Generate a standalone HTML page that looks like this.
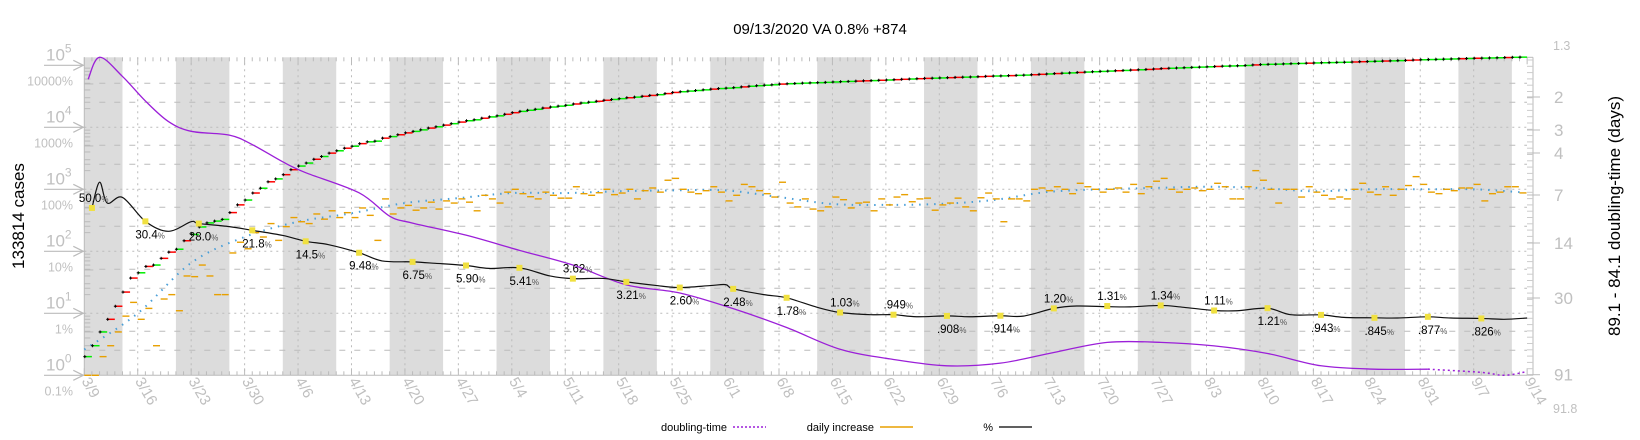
<!DOCTYPE html>
<html><head><meta charset="utf-8">
<style>
html,body{margin:0;padding:0;background:#fff;}
svg{display:block;font-family:"Liberation Sans","DejaVu Sans",sans-serif;}
</style></head>
<body>
<svg id="chart" width="1640" height="440" viewBox="0 0 1640 440" xmlns="http://www.w3.org/2000/svg">
<text x="820" y="34" text-anchor="middle" font-size="15" fill="#000">09/13/2020 VA 0.8% +874</text>
<text transform="translate(24,216) rotate(-90)" text-anchor="middle" font-size="17" fill="#000">133814 cases</text>
<text transform="translate(1620,216) rotate(-90)" text-anchor="middle" font-size="17" fill="#000">89.1 - 84.1 doubling-time (days)</text>
<g id="bands"></g><g id="grid"></g><g id="axes"></g><g id="series"></g><g id="labels"></g>
<g>
<text x="727" y="431" text-anchor="end" font-size="11">doubling-time</text>
<line x1="733" y1="427" x2="766" y2="427" stroke="#9b1fd8" stroke-width="1.5" stroke-dasharray="2,2"/>
<text x="874" y="431" text-anchor="end" font-size="11">daily increase</text>
<line x1="880" y1="427" x2="913" y2="427" stroke="#e8a000" stroke-width="1.5"/>
<text x="993" y="431" text-anchor="end" font-size="11">%</text>
<line x1="999" y1="427" x2="1032" y2="427" stroke="#000" stroke-width="1.2"/>
</g>
</svg>
<script>
// ---- data ----
const dateLabels = ["3/9","3/16","3/23","3/30","4/6","4/13","4/20","4/27","5/4","5/11","5/18","5/25","6/1","6/8","6/15","6/22","6/29","7/6","7/13","7/20","7/27","8/3","8/10","8/17","8/24","8/31","9/7","9/14"];
const dailyIncrease = [
1,1,2,3,5,9,15,
8,12,3,17,20,11,40,
39,60,40,20,20,94,140,
110,200,170,280,150,250,350,
300,280,400,330,450,350,420,
350,500,380,150,700,400,500,
550,460,500,620,480,650,600,
700,620,450,800,700,600,900,
1000,850,760,700,900,800,720,
720,1100,850,800,880,1000,820,
870,1000,700,950,1050,900,1400,
1500,1000,900,850,950,1100,900,
650,800,1200,1100,950,850,750,
1300,600,520,700,480,450,520,
750,680,500,600,620,450,700,
560,750,820,630,700,720,460,
560,600,720,520,450,730,870,
700,300,700,700,650,1000,1050,
950,1100,1000,850,1250,1100,1000,
900,1000,1050,900,1200,850,1100,
1350,1500,1000,900,1000,1050,950,
1000,1250,1100,700,700,1100,2000,
1400,1000,600,1000,1000,750,1100,
900,800,700,750,700,1000,1250,
900,820,1100,800,1000,1150,1600,
1200,900,850,1000,950,1050,1050,
1200,650,850,900,1100,1100,874];
const avgDays = [0,7,14,21,28,35,42,49,56,63,70,77,84,91,98,105,112,119,126,133,140,147,154,161,168,175,182,188];
const avgValues = [2.6,10,65,170,300,410,600,720,870,870,930,960,960,750,580,560,580,670,900,1000,1050,1100,1050,930,1000,1000,1000,900];
const pctDays = [1,2,3,5,8,11,14,15,19,22,26,29,32,36,39,43,46,50,53,57,61,64,68,71,75,78,82,84,85,89,92,96,99,103,106,109,113,116,120,123,127,130,134,137,141,144,148,151,155,158,162,165,169,172,176,179,183,186,189];
const pctValues = [50,130,60,74,30.4,21,30,28,25,21.8,18,14.5,12.8,9.48,7.0,6.75,6.4,5.9,5.3,5.41,4.0,3.62,3.65,3.21,2.8,2.6,2.8,2.9,2.48,2.0,1.78,1.25,1.03,0.95,0.949,0.88,0.908,0.88,0.914,0.9,1.20,1.31,1.28,1.27,1.34,1.25,1.11,1.1,1.21,0.95,0.943,0.86,0.845,0.84,0.877,0.84,0.826,0.8,0.84];
const markerLabels = ["50.0","30.4","28.0","21.8","14.5","9.48","6.75","5.90","5.41","3.62","3.21","2.60","2.48","1.78","1.03",".949",".908",".914","1.20","1.31","1.34","1.11","1.21",".943",".845",".877",".826"];
const markerValues = [50,30.4,28.0,21.8,14.5,9.48,6.75,5.90,5.41,3.62,3.21,2.60,2.48,1.78,1.03,0.949,0.908,0.914,1.20,1.31,1.34,1.11,1.21,0.943,0.845,0.877,0.826];
const markerAbove = [1,0,0,0,0,0,0,0,0,1,0,0,0,0,1,1,0,0,1,1,1,1,0,0,0,0,0];
const dtDays = [0.5,2,5,8,11,14,19,22,26,29,36,40,43,50,57,64,71,78,85,92,99,106,113,120,127,134,141,148,155,162,169,176,183,186,189];
const dtValues = [1.65,1.3,1.6,2.1,2.7,3.05,3.2,3.6,4.5,5.2,6.8,9.5,10.5,12.5,15.5,19,25,28,35,46,63,73,80,77,66,57,57,60,67,80,84,84,88,91.8,87];
const dtDottedFrom = 180;
const caseTicks = [0,1,2,3,4,5];
const pctTickLabels = ["10000%","1000%","100%","10%","1%","0.1%"];
const dtTickValues = [2,3,4,7,14,30,91];

// ---- scales ----
const NS="http://www.w3.org/2000/svg";
const X0=84.3, DAY=7.634, YB=375.3, DEC=62, XR=1527;
const xDay=d=>X0+d*DAY;
const yCase=v=>YB-DEC*Math.log10(v);
const yPct=p=>YB-DEC*Math.log10(p*10);
const dtMap=[[1.3,57.3],[2,97],[3,130],[4,153],[7,195],[14,243],[30,298],[91.8,375.3]];
function yDt(d){
  d=Math.max(1.3,Math.min(91.8,d));
  for(let i=0;i<dtMap.length-1;i++){const a=dtMap[i],b=dtMap[i+1];
    if(d<=b[0]){const f=(Math.log(d)-Math.log(a[0]))/(Math.log(b[0])-Math.log(a[0]));return a[1]+f*(b[1]-a[1]);}}
  return 375.3;
}
function smooth(pts){
  if(pts.length<2)return '';
  let s=`M${pts[0][0]},${pts[0][1]}`;
  for(let i=0;i<pts.length-1;i++){
    const p0=pts[Math.max(0,i-1)],p1=pts[i],p2=pts[i+1],p3=pts[Math.min(pts.length-1,i+2)];
    const c1=[p1[0]+(p2[0]-p0[0])/6,p1[1]+(p2[1]-p0[1])/6];
    const c2=[p2[0]-(p3[0]-p1[0])/6,p2[1]-(p3[1]-p1[1])/6];
    s+=` C${c1[0]},${c1[1]} ${c2[0]},${c2[1]} ${p2[0]},${p2[1]}`;
  }
  return s;
}
function mk(tag,attrs,parent){const e=document.createElementNS(NS,tag);for(const k in attrs)e.setAttribute(k,attrs[k]);parent.appendChild(e);return e;}
const gB=document.getElementById('bands'),gG=document.getElementById('grid'),gA=document.getElementById('axes'),gS=document.getElementById('series'),gL=document.getElementById('labels');

for(let s=-2;s<189;s+=14){
  const a=Math.max(0,s),b=Math.min(189,s+7);
  const r=mk('rect',{x:xDay(a),y:57.3,width:xDay(b)-xDay(a),height:YB-57.3,fill:'#dcdcdc'},gB);
  
  
}
for(let k=0;k<=5;k++){
  const yd=yCase(Math.pow(10,k));
  if(k>0&&k<5){const l=mk('line',{x1:X0,x2:XR,y1:yd,y2:yd,stroke:'#bbb','stroke-dasharray':'2,4'},gG);
    }
  [18,37].forEach(o=>{const y=yd+o;if(y<YB-2&&y>57){const l=mk('line',{x1:X0,x2:XR,y1:y,y2:y,stroke:'#bbb','stroke-dasharray':'6,9'},gG);
    }});
}
dateLabels.forEach((lab,i)=>{
  const x=xDay(i*7);
  if(i>0&&i<27){const l=mk('line',{x1:x,x2:x,y1:57.3,y2:YB,stroke:'#bbb','stroke-dasharray':'2,4'},gG);
    }
  const t=mk('text',{x:0,y:0,transform:`translate(${x-3},${381}) rotate(60)`,'font-size':15,fill:'#bfbfbf'},gL);
  t.textContent=lab;
  
  
});
for(let d=0;d<=189;d++){const x=xDay(d);const h=(d%7===0)?7:4;
  mk('line',{x1:x,x2:x,y1:YB,y2:YB-h,stroke:'#bbb'},gA);
  mk('line',{x1:x,x2:x,y1:57.3,y2:57.3+h,stroke:'#bbb'},gA);}
mk('line',{x1:X0,x2:X0,y1:57.3,y2:YB,stroke:'#bbb'},gA);
mk('line',{x1:X0,x2:XR+6,y1:YB,y2:YB,stroke:'#bbb'},gA);
caseTicks.forEach((k,i)=>{
  const y=yCase(Math.pow(10,k));
  mk('line',{x1:44,x2:X0,y1:y,y2:y,stroke:'#bbb','stroke-width':1.2},gA);
  mk('polyline',{points:`${X0-11},${y-5} ${X0-1},${y} ${X0-11},${y+5}`,fill:'none',stroke:'#bbb','stroke-width':1.2},gA);
  const t=mk('text',{x:46,y:y-5,'font-size':17,fill:'#c0c0c0'},gL);
  t.innerHTML='10<tspan dy="-8" font-size="12">'+k+'</tspan>';
  
  
  for(let m=2;m<=9;m++){const ym=y-DEC*Math.log10(m);if(k<5&&ym>57)mk('line',{x1:X0,x2:X0+(m===5?9:6),y1:ym,y2:ym,stroke:'#bbb'},gA);}
});
pctTickLabels.forEach((lab,i)=>{
  const t=mk('text',{x:73,y:yCase(Math.pow(10,5-i))+20,'text-anchor':'end','font-size':12.5,fill:'#c0c0c0'},gL);
  t.textContent=lab;
  
  
});
mk('line',{x1:1533,x2:1533,y1:57.3,y2:YB,stroke:'#bbb'},gA);
mk('line',{x1:XR,x2:1533,y1:57.3,y2:57.3,stroke:'#bbb'},gA);
for(let y=60;y<YB;y+=6.3){mk('line',{x1:XR,x2:1533,y1:y,y2:y,stroke:'#ccc'},gA);}
dtTickValues.forEach(v=>{
  const y=yDt(v);
  mk('line',{x1:XR,x2:1540,y1:y,y2:y,stroke:'#bbb'},gA);
  const t=mk('text',{x:1554,y:y+6,'font-size':17,fill:'#c0c0c0'},gL);
  t.textContent=String(v);
  
  
});
[["1.3",50],["91.8",413]].forEach(([s,y])=>{const t=mk('text',{x:1553,y:y,'font-size':12.5,fill:'#c0c0c0'},gL);t.textContent=s;
  });

// blue avg dotted
const avgLine=mk('path',{d:smooth(avgDays.map((d,i)=>[xDay(d),yCase(avgValues[i])])),fill:'none',stroke:'#4a9fd8','stroke-width':2,'stroke-dasharray':'1.5,6'},gS);


dailyIncrease.forEach((v,d)=>{
  const y=yCase(Math.max(v,1));
  const l=mk('line',{x1:xDay(d),x2:xDay(d)+7,y1:y,y2:y,stroke:'#e8a000','stroke-width':1.4},gS);
  
  
});
let cum=1;
function avgAt(d){for(let i=0;i<avgDays.length-1;i++){if(d<=avgDays[i+1]){return avgValues[i];}}return avgValues[avgValues.length-1];}
dailyIncrease.forEach((v,d)=>{
  cum+=v;
  const y=yCase(cum);
  const col=(d>0&&v>dailyIncrease[d-1]*1.02&&v>avgAt(d))?'#f00':'#0e0';
  const l=mk('line',{x1:xDay(d),x2:xDay(d)+7.6,y1:y,y2:y,stroke:col,'stroke-width':1.5},gS);
  
  
  mk('line',{x1:xDay(d)-1,x2:xDay(d)+2,y1:y,y2:y,stroke:'#000','stroke-width':1},gS);
  mk('line',{x1:xDay(d)+0.5,x2:xDay(d)+0.5,y1:y-1.5,y2:y+1.5,stroke:'#000','stroke-width':1},gS);
});
let solid=[],dotted=[];
dtDays.forEach((d,i)=>{const p=[xDay(d),yDt(dtValues[i])];if(d<=dtDottedFrom)solid.push(p);if(d>=dtDottedFrom-5)dotted.push(p);});
const pl=mk('path',{d:smooth(solid),fill:'none',stroke:'#9b1fd8','stroke-width':1.3},gS);


const pd=mk('path',{d:smooth(dotted),fill:'none',stroke:'#9b1fd8','stroke-width':1.5,'stroke-dasharray':'2,3'},gS);


const bl=mk('path',{d:smooth(pctDays.map((d,i)=>[xDay(d),yPct(pctValues[i])])),fill:'none',stroke:'#111','stroke-width':1.2},gS);


markerValues.forEach((v,i)=>{
  const x=xDay(1+7*i),y=yPct(v);
  const m=mk('rect',{x:x-3,y:y-3,width:6,height:6,fill:'#f0e040'},gS);
  
  
  const ty=markerAbove[i]?y-6:y+17;
  const t=mk('text',{x:x-(i===0?13:10),y:ty,'font-size':11.5,fill:'#000'},gL);
  t.innerHTML=markerLabels[i]+'<tspan font-size="8" fill="#555">%</tspan>';
  
  
});
</script>
</body></html>
